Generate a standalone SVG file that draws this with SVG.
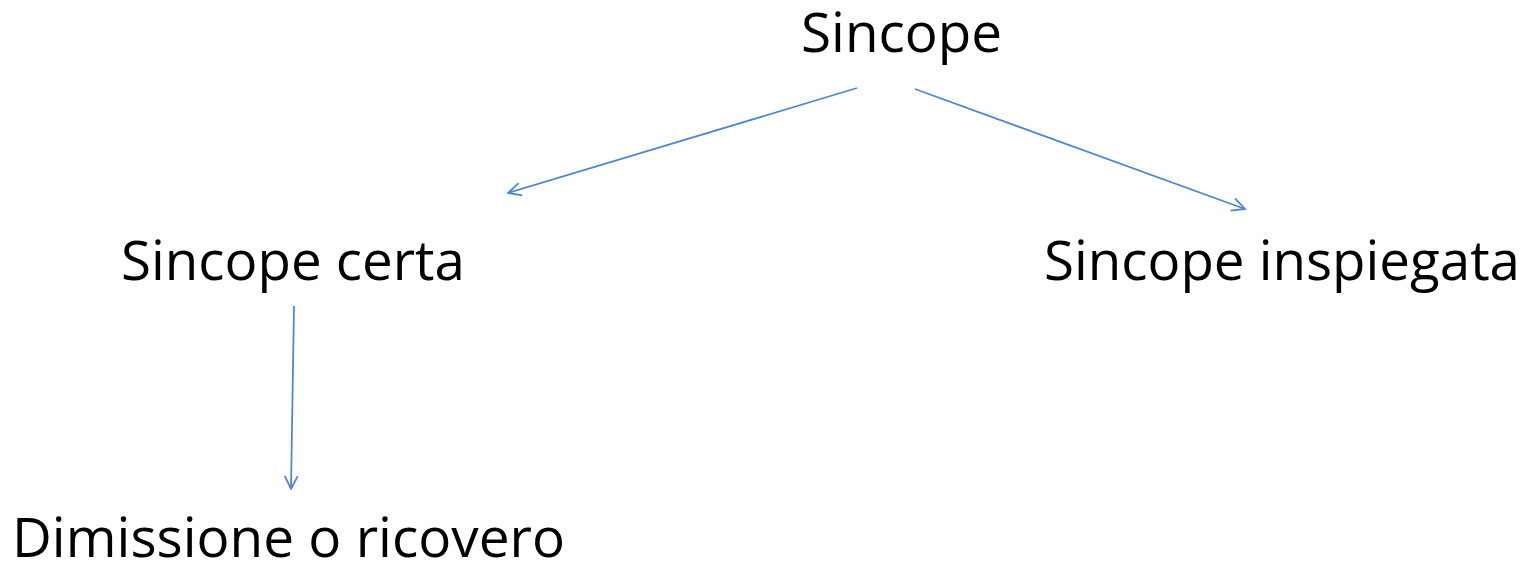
<svg xmlns="http://www.w3.org/2000/svg" width="1529" height="563" viewBox="0 0 1529 563">
  <style>
    .label { font-family: "Open Sans", "Liberation Sans", sans-serif; font-size: 54px; fill: #000000; }
    .edge { fill: none; stroke: #4f86d6; stroke-width: 1.8; marker-end: url(#open-arrow); }
  </style>
  <defs>
    <!-- open V arrowhead shared by all connectors -->
    <marker id="open-arrow" viewBox="0 0 16 16" refX="15" refY="8" markerWidth="16" markerHeight="16" markerUnits="userSpaceOnUse" orient="auto">
      <path d="M2,1.5 L15,8 L2,14.5" fill="none" stroke="#4f86d6" stroke-width="1.8"/>
    </marker>
  </defs>
  <rect width="1529" height="563" fill="#ffffff"/>

  <g id="connectors">
    <line class="edge" x1="857" y1="88" x2="508" y2="193"/>
    <line class="edge" x1="915" y1="89" x2="1245" y2="209"/>
    <line class="edge" x1="294" y1="306" x2="291" y2="489"/>
  </g>

  <g id="node-sincope">
    <text class="label" x="801" y="52" textLength="201" lengthAdjust="spacingAndGlyphs">Sincope</text>
  </g>
  <g id="node-sincope-certa">
    <text class="label" x="121" y="280" textLength="344" lengthAdjust="spacingAndGlyphs">Sincope certa</text>
  </g>
  <g id="node-sincope-inspiegata">
    <text class="label" x="1044" y="280" textLength="476" lengthAdjust="spacingAndGlyphs">Sincope inspiegata</text>
  </g>
  <g id="node-dimissione">
    <text class="label" x="12" y="557" textLength="553" lengthAdjust="spacingAndGlyphs">Dimissione o ricovero</text>
  </g>
</svg>
